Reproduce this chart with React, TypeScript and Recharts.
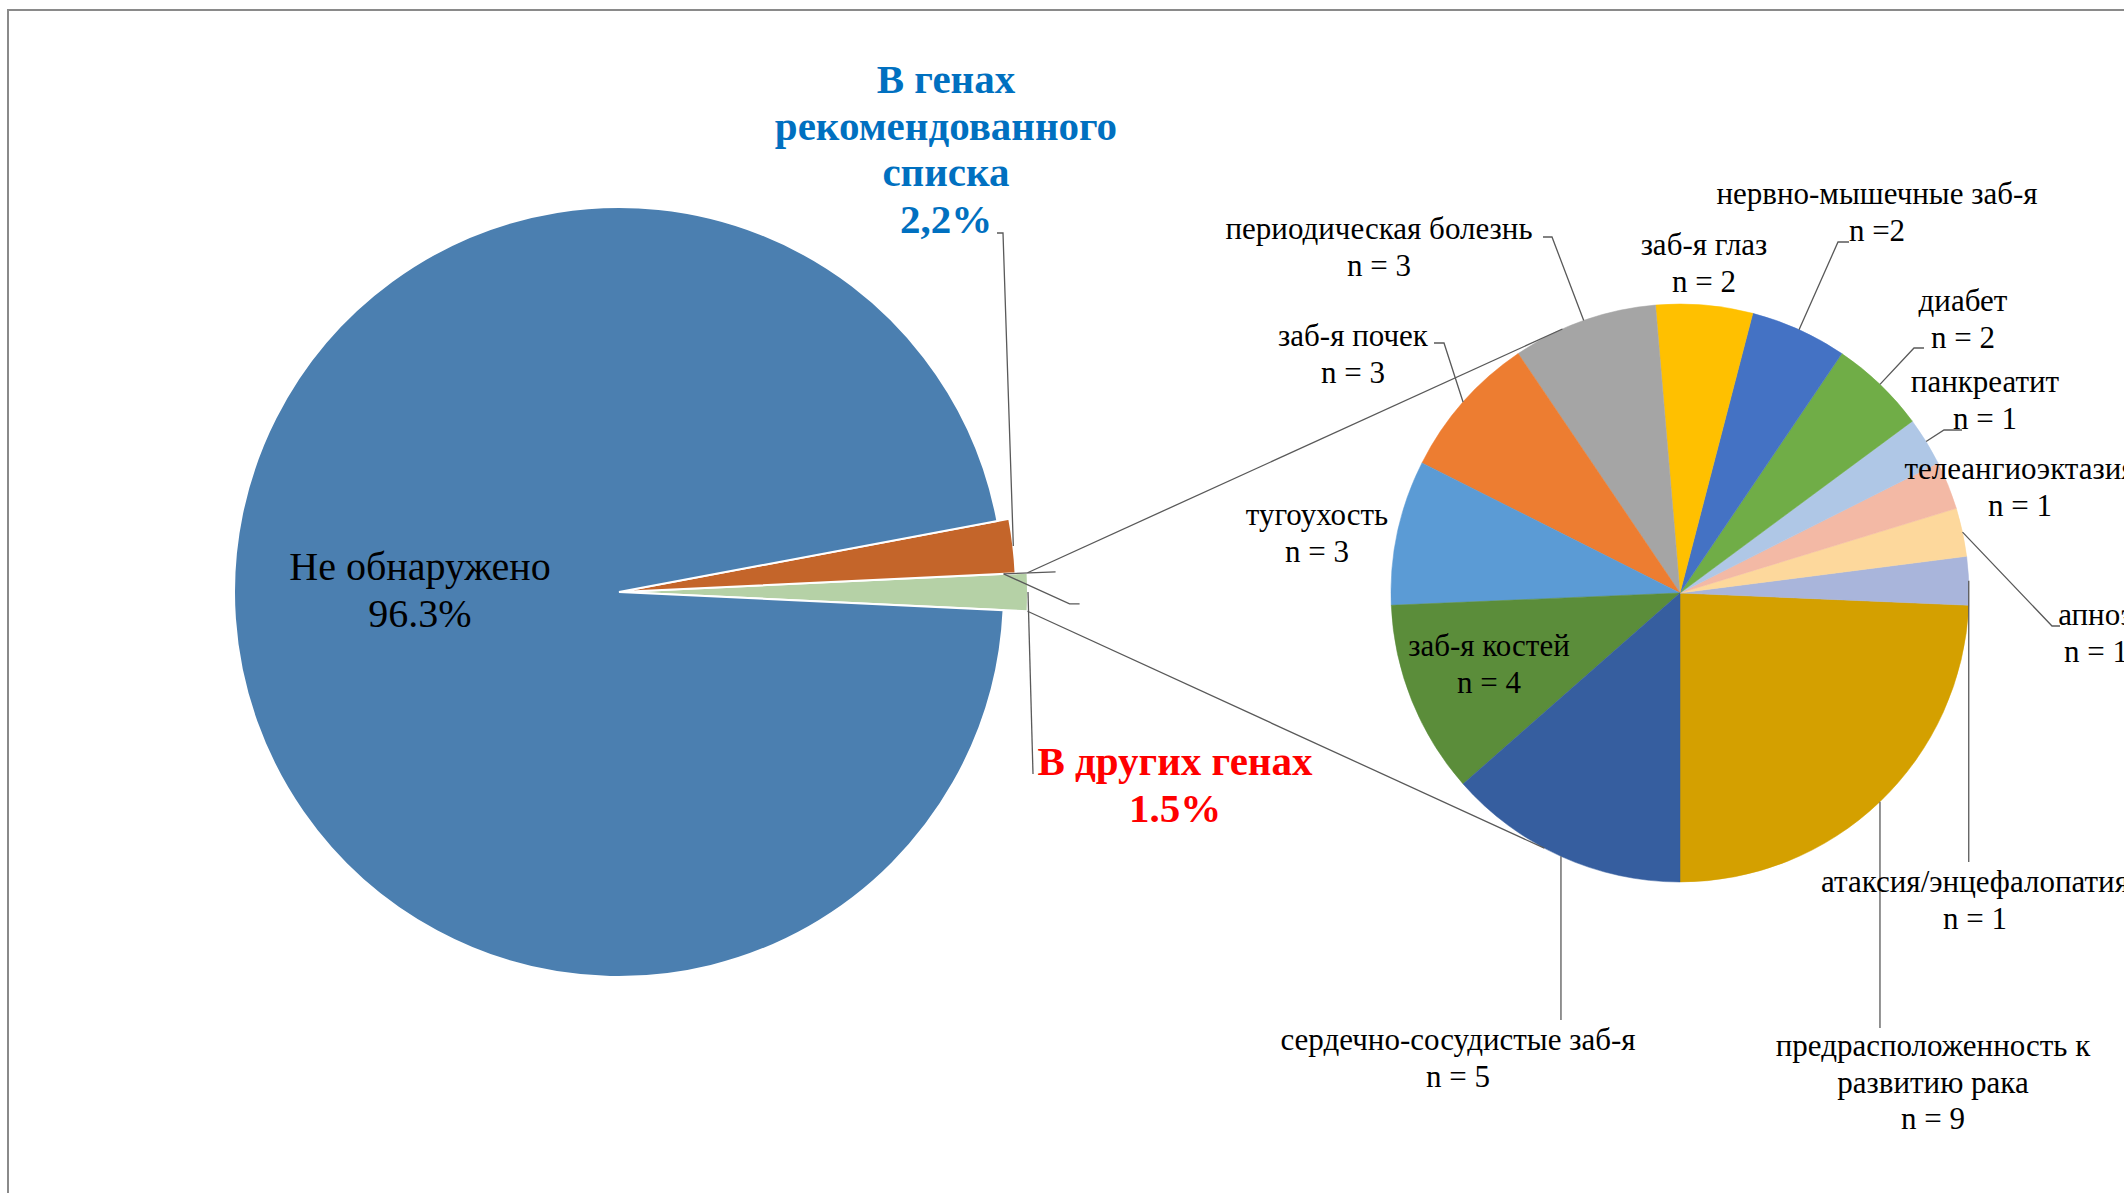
import React from "react";
import { PieChart, Pie, Cell } from "recharts";

const W = 2124;
const H = 1193;
const FONT = "'Times New Roman', 'Liberation Serif', serif";
const LINE = "#595959";

// first pie: all variants
const MAIN_NAMES = ["В других генах", "В генах рекомендованного списка", "Не обнаружено"];
const MAIN_VALUES = [1.5, 2.2, 96.3];
const MAIN_COLORS = ["#B5D1A6", "#C4652A", "#4B7FB0"];
const MAIN_RADIUS = [409, 397, 385];

// second pie: breakdown of "other genes", counts
const SUB_NAMES = [
  "предрасположенность к\nразвитию рака",
  "атаксия/энцефалопатия",
  "апноэ",
  "телеангиоэктазия",
  "панкреатит",
  "диабет",
  "нервно-мышечные заб-я",
  "заб-я глаз",
  "периодическая болезнь",
  "заб-я почек",
  "тугоухость",
  "заб-я костей",
  "сердечно-сосудистые заб-я",
];
const SUB_VALUES = [9, 1, 1, 1, 1, 2, 2, 2, 3, 3, 3, 4, 5];
const SUB_COLORS = [
  "#D4A000", "#A9B5DB", "#FDD89C", "#F3B9A5", "#AFC7E6", "#70AD47", "#4472C4",
  "#FFC000", "#A5A5A5", "#ED7D31", "#5B9BD5", "#5B8D3A", "#365E9F",
];

const MAIN_DATA = MAIN_NAMES.map((name, i) => ({ name, value: MAIN_VALUES[i] }));
const SUB_DATA = SUB_NAMES.map((name, i) => ({ name, value: SUB_VALUES[i] }));

const MAIN_CX = 619;
const MAIN_CY = 592;
const SUB_CX = 1680;
const SUB_CY = 593;
const SUB_R = 289;
const MAIN_START = -(MAIN_VALUES[0] / 100) * 180;
const CONNECT_ANGLES = [114, 242];

const RAD = Math.PI / 180;
const polar = (cx: number, cy: number, r: number, a: number) => [cx + r * Math.cos(a * RAD), cy - r * Math.sin(a * RAD)];

function lines(x: number, y: number, lh: number, rows: string[], style: any) {
  return (
    <text textAnchor="middle" fontFamily={FONT} {...style}>
      {rows.map((r, i) => (
        <tspan key={i} x={x} y={y + i * lh}>{r}</tspan>
      ))}
    </text>
  );
}

function mainLabel(p: any) {
  const name = p.payload?.name ?? p.name;
  const [px, py] = polar(p.cx, p.cy, p.outerRadius, p.midAngle);
  if (name === "Не обнаружено") {
    return <g>{lines(420, 580, 47, ["Не обнаружено", "96.3%"], { fontSize: 40, fill: "#000" })}</g>;
  }
  if (name === "В генах рекомендованного списка") {
    return (
      <g>
        {lines(946, 93, 46.7, ["В генах", "рекомендованного", "списка", "2,2%"], { fontSize: 41, fontWeight: 700, fill: "#0070C0" })}
        <polyline points={`997,233 1003,233 ${px},${py}`} fill="none" stroke={LINE} strokeWidth={1.3} />
      </g>
    );
  }
  // "other genes" slice: its label plus the pie-of-pie connector lines
  const [ax, ay] = polar(p.cx, p.cy, p.outerRadius, p.endAngle);
  const [bx, by] = polar(p.cx, p.cy, p.outerRadius, p.startAngle);
  const [t1x, t1y] = polar(SUB_CX, SUB_CY, SUB_R, CONNECT_ANGLES[0]);
  const [t2x, t2y] = polar(SUB_CX, SUB_CY, SUB_R, CONNECT_ANGLES[1]);
  const [sx, sy] = polar(p.cx, p.cy, MAIN_RADIUS[2], p.endAngle);
  return (
    <g>
      {lines(1175, 775, 47, ["В других генах", "1.5%"], { fontSize: 41, fontWeight: 700, fill: "#FF0000" })}
      <line x1={px} y1={py} x2={px + 5} y2={774} stroke={LINE} strokeWidth={1.3} />
      <line x1={ax} y1={ay} x2={t1x} y2={t1y} stroke={LINE} strokeWidth={1.3} />
      <line x1={bx} y1={by} x2={t2x} y2={t2y} stroke={LINE} strokeWidth={1.3} />
      <line x1={sx} y1={sy} x2={sx + 52} y2={sy - 2} stroke={LINE} strokeWidth={1.3} />
      <polyline points={`${sx},${sy} ${sx + 66},${sy + 30} ${sx + 76},${sy + 30}`} fill="none" stroke={LINE} strokeWidth={1.3} />
    </g>
  );
}

// text placement of the breakdown labels (first baseline) and leader style
const SUB_LAYOUT: Record<string, any> = {
  "предрасположенность к\nразвитию рака": { x: 1933, y: 1056, down: 1028 },
  "атаксия/энцефалопатия": { x: 1975, y: 892, down: 862 },
  "апноэ": { x: 2096, y: 625, ex: 2052, ey: 626, sx: 2060 },
  "телеангиоэктазия": { x: 2020, y: 479 },
  "панкреатит": { x: 1985, y: 392, ex: 1944, ey: 430, sx: 1962 },
  "диабет": { x: 1963, y: 311, ex: 1914, ey: 348, sx: 1924 },
  "нервно-мышечные заб-я": { x: 1877, y: 204, ex: 1838, ey: 242, sx: 1849, n: "n =2" },
  "заб-я глаз": { x: 1704, y: 255 },
  "периодическая болезнь": { x: 1379, y: 239, ex: 1552, ey: 237, sx: 1543 },
  "заб-я почек": { x: 1353, y: 346, ex: 1444, ey: 343, sx: 1434 },
  "тугоухость": { x: 1317, y: 525 },
  "заб-я костей": { x: 1489, y: 656 },
  "сердечно-сосудистые заб-я": { x: 1458, y: 1050, down: 1020 },
};

function subLabel(p: any) {
  const name = p.payload?.name ?? p.name;
  const value = p.payload?.value ?? p.value;
  const l = SUB_LAYOUT[name];
  if (!l) return null;
  const [px, py] = polar(p.cx, p.cy, p.outerRadius, p.midAngle);
  const rows = [...name.split("\n"), l.n ?? `n = ${value}`];
  let leader = null;
  if (l.down) leader = <line x1={px} y1={py} x2={px} y2={l.down} stroke={LINE} strokeWidth={1.3} />;
  if (l.ex) leader = <polyline points={`${px},${py} ${l.ex},${l.ey} ${l.sx},${l.ey}`} fill="none" stroke={LINE} strokeWidth={1.3} />;
  return (
    <g>
      {leader}
      {lines(l.x, l.y, 36.5, rows, { fontSize: 31, fill: "#000" })}
    </g>
  );
}

export default function App() {
  return (
    <div style={{ position: "absolute", left: 0, top: 0, width: W, height: H, overflow: "hidden", background: "#fff" }}>
      <div style={{ position: "absolute", left: 7, top: 9, width: W, height: H, borderLeft: "2px solid #8a8a8a", borderTop: "2px solid #8a8a8a" }} />
      <div style={{ position: "absolute", left: 0, top: 0 }}>
        <PieChart width={W} height={H} margin={{ top: 0, right: 0, bottom: 0, left: 0 }}>
          {MAIN_NAMES.map((own, k) => (
            <Pie
              key={own}
              data={MAIN_DATA}
              dataKey="value"
              nameKey="name"
              cx={MAIN_CX}
              cy={MAIN_CY}
              outerRadius={MAIN_RADIUS[k]}
              startAngle={MAIN_START}
              endAngle={MAIN_START + 360}
              isAnimationActive={false}
              labelLine={false}
              label={(p: any) => ((p.payload?.name ?? p.name) === own ? mainLabel(p) : null)}
            >
              {MAIN_DATA.map((d, i) => (
                <Cell
                  key={d.name}
                  fill={d.name === own ? MAIN_COLORS[i] : "none"}
                  stroke={d.name === own ? "#fff" : "none"}
                  strokeWidth={2}
                />
              ))}
            </Pie>
          ))}
          <Pie
            data={SUB_DATA}
            dataKey="value"
            nameKey="name"
            cx={SUB_CX}
            cy={SUB_CY}
            outerRadius={SUB_R}
            startAngle={-90}
            endAngle={270}
            isAnimationActive={false}
            labelLine={false}
            label={subLabel}
          >
            {SUB_DATA.map((d, i) => (
              <Cell key={d.name} fill={SUB_COLORS[i]} stroke={SUB_COLORS[i]} strokeWidth={0.5} />
            ))}
          </Pie>
        </PieChart>
      </div>
    </div>
  );
}
